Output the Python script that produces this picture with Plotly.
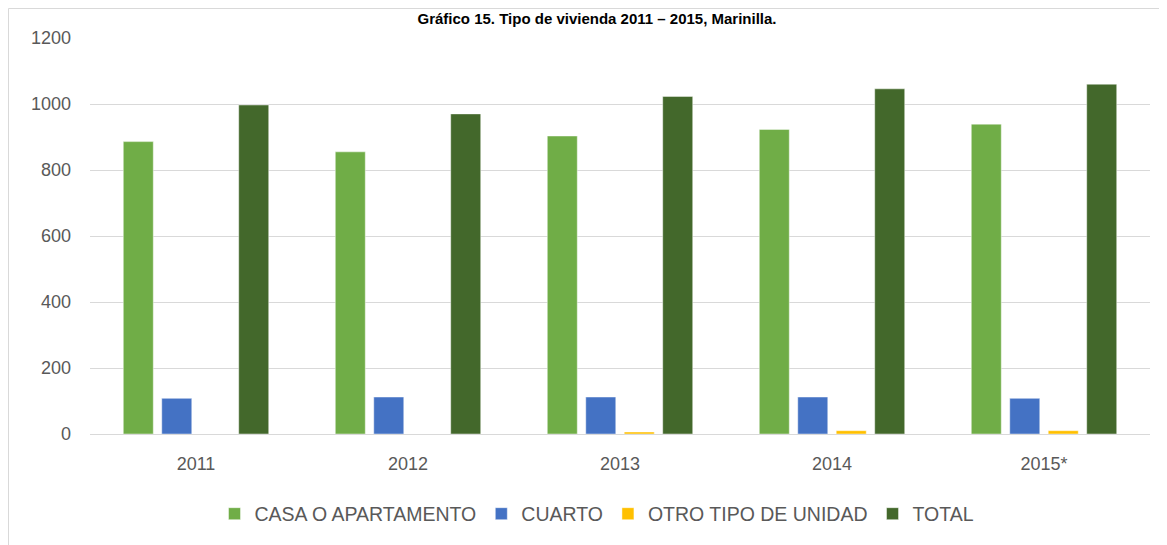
import plotly.graph_objects as go

# ---- data ----
years = ["2011", "2012", "2013", "2014", "2015*"]
casa = [886, 855, 903, 923, 939]
cuarto = [108, 112, 112, 112, 108]
otro = [0, 0, 6, 10, 10]
total = [997, 970, 1023, 1046, 1060]
series_names = ["CASA O APARTAMENTO", "CUARTO", "OTRO TIPO DE UNIDAD", "TOTAL"]
series_values = [casa, cuarto, otro, total]
colors = ["#70AD47", "#4472C4", "#FFC000", "#43682B"]
y_ticks = [0, 200, 400, 600, 800, 1000, 1200]
title_text = "Gráfico 15. Tipo de vivienda 2011 – 2015, Marinilla."

# The page body has an 8px margin, so the figure is 8px smaller than the window
W, H = 1159, 537
ML, MT = 82, 30
PW, PH = 1060, 396
MR = W - ML - PW
MB = H - MT - PH

FONT = "Liberation Sans, Arial, sans-serif"

fig = go.Figure()
for name, vals, col in zip(series_names, series_values, colors):
    fig.add_trace(go.Bar(
        x=years, y=vals, name=name,
        marker=dict(color=col, line=dict(color="rgba(255,255,255,0.45)", width=1)),
    ))

def px_x(px):
    return (px - ML) / PW

def px_y(py):
    return (H - MB - py) / PH

shapes = [
    dict(type="line", xref="paper", yref="paper",
         x0=px_x(0.5), x1=px_x(0.5), y0=px_y(H + 5), y1=px_y(0.5),
         line=dict(color="#D9D9D9", width=1)),
    dict(type="line", xref="paper", yref="paper",
         x0=px_x(0.5), x1=px_x(W + 5), y0=px_y(0.5), y1=px_y(0.5),
         line=dict(color="#D9D9D9", width=1)),
]

fig.update_layout(
    width=W, height=H, autosize=False,
    margin=dict(l=ML, r=MR, t=MT, b=MB, pad=0),
    paper_bgcolor="white", plot_bgcolor="white",
    font=dict(family=FONT, size=18, color="#595959"),
    title=dict(text="<b>" + title_text + "</b>",
               font=dict(family=FONT, size=15, color="#000000"),
               x=589 / W, xanchor="center", xref="container",
               y=1 - 11 / H, yanchor="middle", yref="container"),
    barmode="group", bargap=0.274, bargroupgap=0.22,
    showlegend=True,
    legend=dict(orientation="h", x=px_x(589), xanchor="center",
                y=px_y(506), yanchor="middle",
                font=dict(family=FONT, size=19.5, color="#595959"),
                itemclick=False, itemdoubleclick=False),
    shapes=shapes,
    xaxis=dict(showgrid=False, showline=True, linecolor="#D9D9D9", linewidth=1,
               ticks="", tickfont=dict(family=FONT, size=18, color="#595959"),
               ticklabelstandoff=13, fixedrange=True),
    yaxis=dict(range=[0, 1200], tickvals=y_ticks, showgrid=True,
               gridcolor="#D9D9D9", gridwidth=1, zeroline=False, showline=False,
               ticks="", tickfont=dict(family=FONT, size=18, color="#595959"),
               ticklabelstandoff=18, fixedrange=True),
)

fig.write_html("out.html")
